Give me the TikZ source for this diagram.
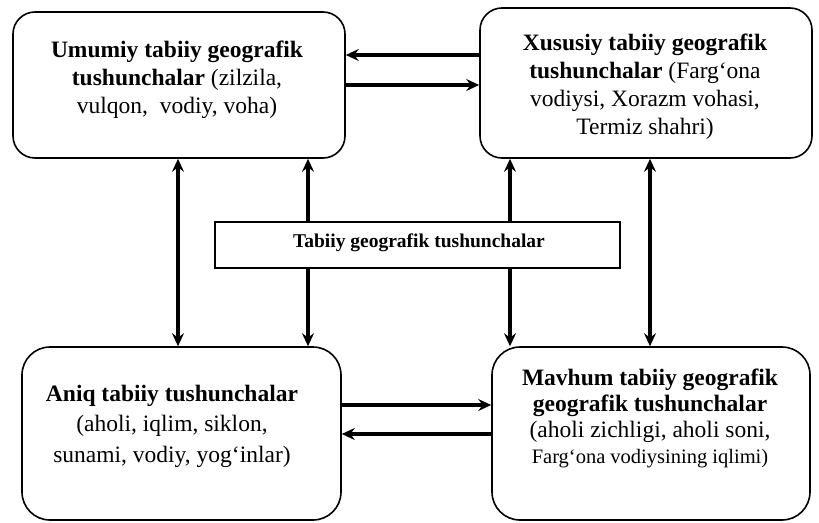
\documentclass[tikz,border=0pt]{standalone}
\usepackage{fontspec}
\setmainfont{Liberation Serif}
\usetikzlibrary{arrows.meta}
\begin{document}
\begin{tikzpicture}[x=1pt,y=-1pt,
  roundbox/.style={draw=black, line width=1.6pt, rounded corners=22pt, fill=white, inner sep=0pt},
  plainbox/.style={draw=black, line width=1.4pt, fill=white, inner sep=0pt},
  txt/.style={align=center, font=\fontsize{23.5}{28}\selectfont, inner sep=0pt},
  tip/.style={},
  arr/.style={line width=3.2pt, -{Stealth[length=13pt,width=12pt,inset=4.5pt]}},
  darr/.style={line width=3.2pt, {Stealth[length=13pt,width=12pt,inset=4.5pt]}-{Stealth[length=13pt,width=12pt,inset=4.5pt]}}
]
\useasboundingbox[fill=white] (0,0) rectangle (819,522);

% boxes
\node[roundbox, minimum width=332pt, minimum height=146pt] (A) at (179,85) {};
\node[roundbox, minimum width=332pt, minimum height=150pt] (B) at (646,83) {};
\node[roundbox, rounded corners=28pt, minimum width=319pt, minimum height=173pt] (C) at (181.5,433.5) {};
\node[roundbox, rounded corners=28pt, minimum width=318pt, minimum height=173pt] (D) at (651,433.5) {};
\node[plainbox, minimum width=405pt, minimum height=46pt] (T) at (417.5,245) {};

% texts
\node[txt] (At) at (177,80) {\textbf{Umumiy tabiiy geografik}\\\textbf{tushunchalar} (zilzila,\\vulqon,\ \ vodiy, voha)};
\node[txt] (Bt) at (645,87) {\textbf{Xususiy tabiiy geografik}\\\textbf{tushunchalar} (Farg‘ona\\vodiysi, Xorazm vohasi,\\Termiz shahri)};
\node[txt, font=\fontsize{23.5}{30.5}\selectfont] (Ct) at (172,426) {\textbf{Aniq tabiiy tushunchalar}\\(aholi, iqlim, siklon,\\sunami, vodiy, yog‘inlar)};
\node[txt, font=\fontsize{23.5}{26}\selectfont] (Dt) at (650,418) {\textbf{Mavhum tabiiy geografik}\\\textbf{geografik tushunchalar}\\(aholi zichligi, aholi soni,\\{\fontsize{20.5}{25}\selectfont Farg‘ona vodiysining iqlimi)}};
\node[txt, font=\fontsize{19.5}{22}\selectfont] (Tt) at (419,243) {\textbf{Tabiiy geografik tushunchalar}};

% helper coordinates
\coordinate (h1) at (0,55);
\coordinate (h2) at (0,85);
\coordinate (h3) at (0,405);
\coordinate (h4) at (0,434);
\coordinate (v1) at (178,0);
\coordinate (v2) at (308,0);
\coordinate (v3) at (510,0);
\coordinate (v4) at (650,0);

% connectors
\draw[arr] (B.west |- h1) -- (A.east |- h1);
\draw[arr] (A.east |- h2) -- (B.west |- h2);
\draw[arr] (C.east |- h3) -- (D.west |- h3);
\draw[arr] (D.west |- h4) -- (C.east |- h4);
\draw[darr] (A.south -| v1) -- (C.north -| v1);
\draw[arr] (T.north -| v2) -- (A.south -| v2);
\draw[arr] (T.south -| v2) -- (C.north -| v2);
\draw[arr] (T.north -| v3) -- (B.south -| v3);
\draw[arr] (T.south -| v3) -- (D.north -| v3);
\draw[darr] (B.south -| v4) -- (D.north -| v4);
\end{tikzpicture}
\end{document}
